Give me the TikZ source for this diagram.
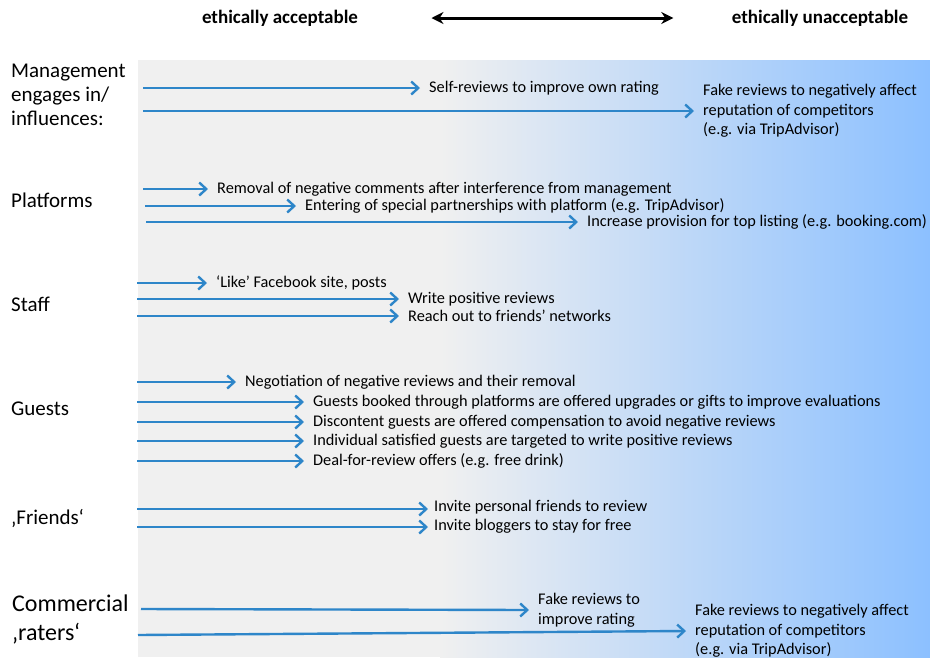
\documentclass[tikz,border=0pt]{standalone}
\usepackage{fontspec}
\setmainfont{Carlito}
\usetikzlibrary{arrows.meta}
\definecolor{arrowblue}{RGB}{46,134,201}
\definecolor{panelgray}{RGB}{240,240,240}
\definecolor{panelblue}{RGB}{140,192,255}

\begin{document}
\begin{tikzpicture}[x=1pt, y=-1pt, >={Straight Barb[length=7pt,width=13pt]},
    lbl/.style={anchor=west, align=left, inner sep=0pt, font=\fontsize{21}{24}\selectfont},
    item/.style={anchor=west, align=left, inner xsep=9pt, inner ysep=0pt, font=\fontsize{16.3}{19.5}\selectfont},
    head/.style={font=\fontsize{19}{21}\selectfont\bfseries},
    conn/.style={->, line width=2.4pt, arrowblue}]
    % Fondo
    \useasboundingbox (0,0) rectangle (930,657);
    \fill[panelgray] (138,60) rectangle (440,657);
    \shade[left color=panelgray, right color=panelblue] (440,60) rectangle (930,657);

    % Encabezado
    \node[head] (acc) at (280,18) {ethically acceptable};
    \node[head] (unacc) at (820,18) {ethically unacceptable};
    \draw[{Stealth[length=12pt,width=12pt]}-{Stealth[length=12pt,width=12pt]}, line width=3pt]
        ([xshift=70pt]acc.east) -- ([xshift=-55pt]unacc.west);

    % Categorias
    \node[lbl] (mgmt) at (11,95) {Management\\engages in/\\influences:};
    \node[lbl] (plat) at (11,200) {Platforms};
    \node[lbl] (staff) at (11,304) {Staff};
    \node[lbl] (guests) at (11,409) {Guests};
    \node[lbl] (friends) at (11,518) {‚Friends‘};
    \node[lbl, font=\fontsize{24}{29}\selectfont] (comm) at (12,619) {Commercial\\‚raters‘};

    % Management
    \coordinate (m1) at (143,88);
    \coordinate (m2) at (143,111);
    \node[item] (m1t) at (420,88) {Self-reviews to improve own rating};
    \node[item] (m2t) at (694,111) {Fake reviews to negatively affect\\reputation of competitors\\(e.g. via TripAdvisor)};
    \draw[conn] (m1) -- (m1t.west);
    \draw[conn] (m2) -- (m2t.west);

    % Platforms
    \coordinate (p1) at (143,189);
    \coordinate (p2) at (145,206);
    \coordinate (p3) at (146,222);
    \node[item] (p1t) at (208,189) {Removal of negative comments after interference from management};
    \node[item] (p2t) at (296,206) {Entering of special partnerships with platform (e.g. TripAdvisor)};
    \node[item] (p3t) at (578,222) {Increase provision for top listing (e.g. booking.com)};
    \draw[conn] (p1) -- (p1t.west);
    \draw[conn] (p2) -- (p2t.west);
    \draw[conn] (p3) -- (p3t.west);

    % Staff
    \coordinate (s1) at (137,283);
    \coordinate (s2) at (137,299);
    \coordinate (s3) at (137,316);
    \node[item] (s1t) at (207,283) {‘Like’ Facebook site, posts};
    \node[item] (s2t) at (399,299) {Write positive reviews};
    \node[item] (s3t) at (399,316) {Reach out to friends’ networks};
    \draw[conn] (s1) -- (s1t.west);
    \draw[conn] (s2) -- (s2t.west);
    \draw[conn] (s3) -- (s3t.west);

    % Guests
    \coordinate (g1) at (137,382);
    \coordinate (g2) at (137,402);
    \coordinate (g3) at (137,422);
    \coordinate (g4) at (137,441);
    \coordinate (g5) at (137,461);
    \node[item] (g1t) at (236,382) {Negotiation of negative reviews and their removal};
    \node[item] (g2t) at (304,402) {Guests booked through platforms are offered upgrades or gifts to improve evaluations};
    \node[item] (g3t) at (304,422) {Discontent guests are offered compensation to avoid negative reviews};
    \node[item] (g4t) at (304,441) {Individual satisfied guests are targeted to write positive reviews};
    \node[item] (g5t) at (304,461) {Deal-for-review offers (e.g. free drink)};
    \draw[conn] (g1) -- (g1t.west);
    \draw[conn] (g2) -- (g2t.west);
    \draw[conn] (g3) -- (g3t.west);
    \draw[conn] (g4) -- (g4t.west);
    \draw[conn] (g5) -- (g5t.west);

    % Friends
    \coordinate (f1) at (137,509);
    \coordinate (f2) at (137,527);
    \node[item, inner xsep=6pt] (f1t) at (428,507) {Invite personal friends to review};
    \node[item, inner xsep=6pt] (f2t) at (428,526) {Invite bloggers to stay for free};
    \draw[conn] (f1) -- ([yshift=-2pt]f1t.west);
    \draw[conn] (f2) -- ([yshift=-1pt]f2t.west);

    % Commercial raters
    \coordinate (c1) at (141,609);
    \coordinate (c2) at (138,635);
    \node[item] (c1t) at (529,610) {Fake reviews to\\improve rating};
    \node[item] (c2t) at (686,631) {Fake reviews to negatively affect\\reputation of competitors\\(e.g. via TripAdvisor)};
    \draw[conn] (c1) -- (c1t.west);
    \draw[conn] (c2) -- (c2t.west);
\end{tikzpicture}
\end{document}
